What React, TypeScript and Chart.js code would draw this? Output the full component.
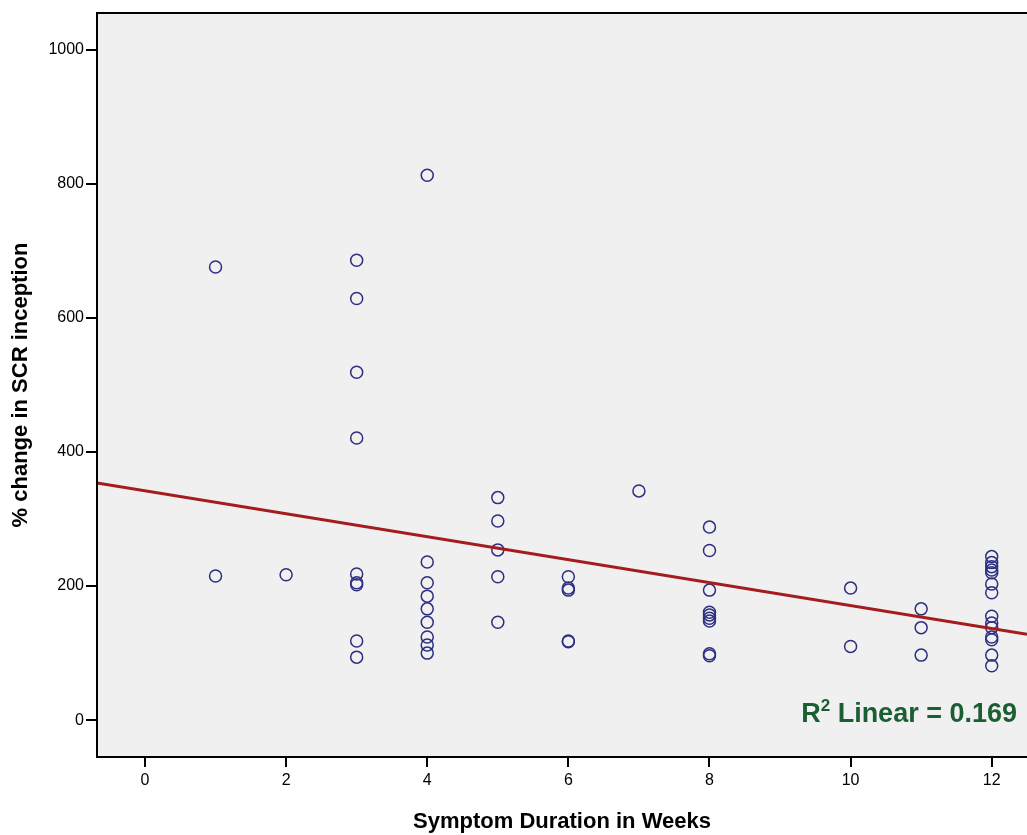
import React, { useEffect, useRef } from "react";
import { Chart, registerables } from "chart.js";

Chart.register(...registerables);

const weeks = [
  1, 1,
  2,
  3, 3, 3, 3, 3, 3, 3, 3, 3,
  4, 4, 4, 4, 4, 4, 4, 4, 4,
  5, 5, 5, 5, 5,
  6, 6, 6, 6, 6,
  7,
  8, 8, 8, 8, 8, 8, 8, 8, 8,
  10, 10,
  11, 11, 11,
  12, 12, 12, 12, 12, 12, 12, 12, 12, 12, 12, 12, 12, 12,
];
const scrChange = [
  676, 215,
  217,
  686, 629, 519, 421, 218, 205, 202, 118, 94,
  813, 236, 205, 185, 166, 146, 124, 112, 100,
  332, 297, 254, 214, 146,
  214, 197, 194, 118, 117,
  342,
  288, 253, 194, 161, 157, 152, 148, 99, 96,
  197, 110,
  166, 138, 97,
  244, 235, 229, 224, 220, 203, 190, 155, 145, 138, 124, 120, 97, 81,
];
const fitX = [-0.68, 12.5];
const fitY = [354, 128];
const xTicks = [0, 2, 4, 6, 8, 10, 12];
const yTicks = [0, 200, 400, 600, 800, 1000];
const r2Label = "0.169";

const FONT = "'Liberation Sans', Arial, sans-serif";

const bgPlugin = {
  id: "bgPlugin",
  beforeDraw(chart: any) {
    const { ctx, chartArea } = chart;
    ctx.save();
    ctx.fillStyle = "#f0f0f0";
    ctx.fillRect(chartArea.left, chartArea.top, chartArea.right - chartArea.left, chartArea.bottom - chartArea.top);
    ctx.restore();
  },
  afterDraw(chart: any) {
    const { ctx, chartArea } = chart;
    ctx.save();
    ctx.strokeStyle = "#000";
    ctx.lineWidth = 2;
    ctx.beginPath();
    ctx.moveTo(chartArea.right + 2, chartArea.top);
    ctx.lineTo(chartArea.left, chartArea.top);
    ctx.lineTo(chartArea.left, chartArea.bottom);
    ctx.lineTo(chartArea.right + 2, chartArea.bottom);
    ctx.stroke();
    // R2 annotation
    const rx = chartArea.right - 10;
    const ry = chart.scales.y.getPixelForValue(0);
    ctx.fillStyle = "#1b5e34";
    ctx.textBaseline = "alphabetic";
    ctx.textAlign = "left";
    const big = `bold 27px ${FONT}`;
    const small = `bold 17px ${FONT}`;
    const rest = ` Linear = ${r2Label}`;
    ctx.font = big;
    const wR = ctx.measureText("R").width;
    const wRest = ctx.measureText(rest).width;
    ctx.font = small;
    const w2 = ctx.measureText("2").width;
    const total = wR + w2 + wRest;
    let x = rx - total;
    const base = ry + 2;
    ctx.font = big;
    ctx.fillText("R", x, base);
    x += wR;
    ctx.font = small;
    ctx.fillText("2", x, base - 11);
    x += w2;
    ctx.font = big;
    ctx.fillText(rest, x, base);
    ctx.restore();
  },
};

export default function App() {
  const ref = useRef<HTMLCanvasElement>(null);
  useEffect(() => {
    document.body.style.margin = "0";
    const points = weeks.map((w, i) => ({ x: w, y: scrChange[i] }));
    const line = fitX.map((x, i) => ({ x, y: fitY[i] }));
    const chart = new Chart(ref.current!, {
      type: "scatter",
      data: {
        datasets: [
          {
            type: "line",
            data: line,
            borderColor: "#a51c1e",
            borderWidth: 3,
            pointRadius: 0,
            fill: false,
            order: 0,
          } as any,
          {
            data: points,
            pointRadius: 6,
            pointBorderWidth: 1.5,
            pointBorderColor: "#2c2f80",
            pointBackgroundColor: "rgba(0,0,0,0)",
            order: 1,
          },
        ],
      },
      options: {
        animation: false,
        responsive: false,
        maintainAspectRatio: false,
        layout: { autoPadding: false, padding: { top: 13, right: 0, left: 0, bottom: 0 } },
        plugins: { legend: { display: false }, tooltip: { enabled: false } },
        scales: {
          x: {
            type: "linear",
            min: -0.68,
            max: 12.5,
            afterBuildTicks: (s: any) => {
              s.ticks = xTicks.map((v) => ({ value: v }));
            },
            afterFit: (s: any) => {
              s.height = 78;
              s.paddingRight = 0;
              s.paddingLeft = 0;
            },
            grid: { display: true, drawOnChartArea: false, drawTicks: true, tickLength: 10, color: "#000", lineWidth: 2 },
            border: { display: false },
            ticks: { color: "#000", font: { family: FONT, size: 16 }, padding: 4, maxRotation: 0, callback: (v: any) => String(v) },
            title: {
              display: true,
              text: "Symptom Duration in Weeks",
              color: "#000",
              font: { family: FONT, size: 22, weight: "bold" },
              padding: { top: 0, bottom: 0 },
            },
          },
          y: {
            type: "linear",
            min: -55,
            max: 1055,
            afterBuildTicks: (s: any) => {
              s.ticks = yTicks.map((v) => ({ value: v }));
            },
            afterFit: (s: any) => {
              s.width = 97;
              s.paddingTop = 0;
              s.paddingBottom = 0;
            },
            grid: { display: true, drawOnChartArea: false, drawTicks: true, tickLength: 11, color: "#000", lineWidth: 2 },
            border: { display: false },
            ticks: { color: "#000", font: { family: FONT, size: 16 }, padding: 2, callback: (v: any) => String(v) },
            title: {
              display: true,
              text: "% change in SCR inception",
              color: "#000",
              font: { family: FONT, size: 22, weight: "bold" },
              padding: { top: 8, bottom: 0 },
            },
          },
        },
      },
      plugins: [bgPlugin],
    });
    return () => chart.destroy();
  }, []);
  return (
    <div style={{ width: 1027, height: 835 }}>
      <canvas ref={ref} width={1027} height={835} style={{ display: "block" }} />
    </div>
  );
}
